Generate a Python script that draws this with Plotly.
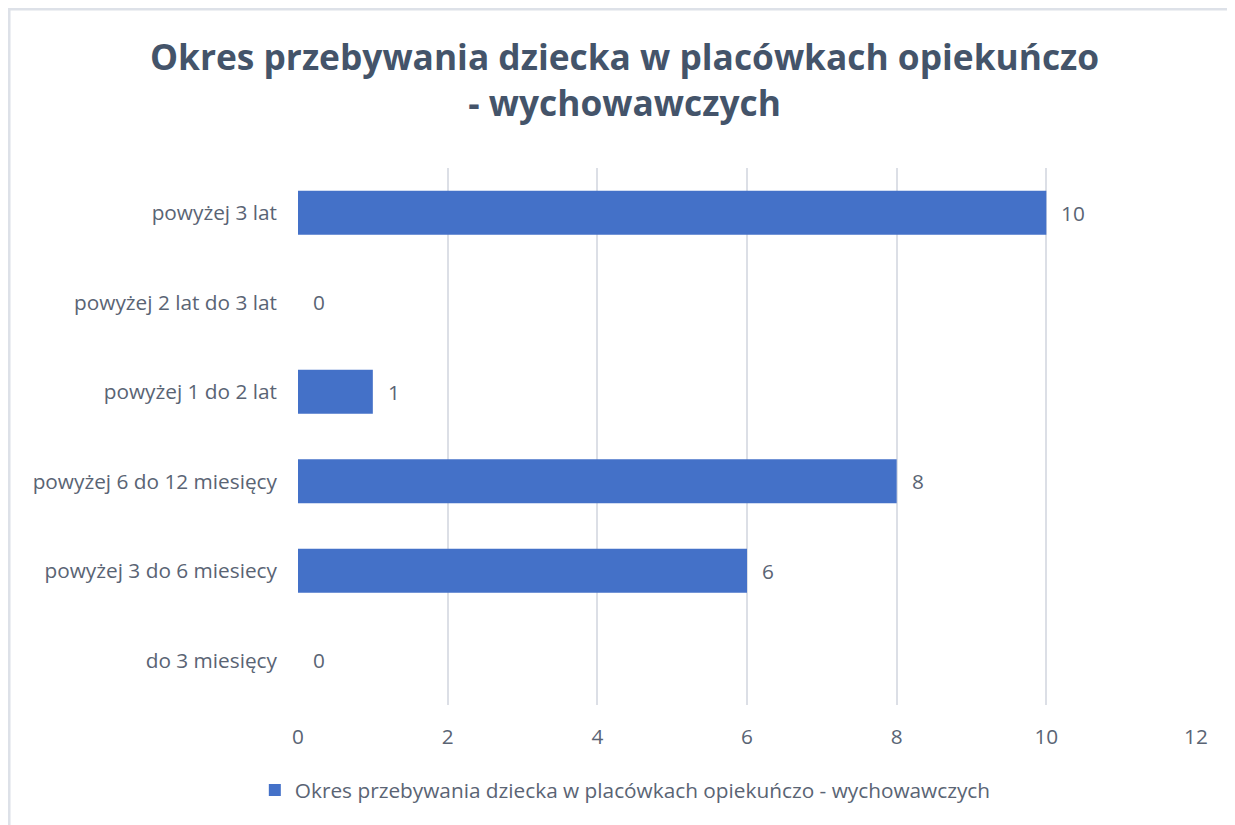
import plotly.graph_objects as go

categories = ["do 3 miesięcy", "powyżej 3 do 6 miesiecy", "powyżej 6 do 12 miesięcy",
              "powyżej 1 do 2 lat", "powyżej 2 lat do 3 lat", "powyżej 3 lat"]
values = [0, 6, 8, 1, 0, 10]
x_ticks = [0, 2, 4, 6, 8, 10, 12]
series_name = "Okres przebywania dziecka w placówkach opiekuńczo - wychowawczych"
title_text = "Okres przebywania dziecka w placówkach opiekuńczo<br>- wychowawczych"

label_color = "#5A6474"
font_family = "'Open Sans', sans-serif"
fs = 20.8

fig = go.Figure()
fig.add_trace(go.Bar(
    x=values, y=categories, orientation="h", name=series_name,
    marker=dict(color="#4471C8", line=dict(width=0)),
    showlegend=True,
))

for v, c in zip(values, categories):
    fig.add_annotation(x=v, y=c, text=str(v), showarrow=False, xanchor="left",
                       xshift=13, font=dict(size=fs, color=label_color, family=font_family))

fig.update_layout(
    width=1227, height=817,
    paper_bgcolor="white", plot_bgcolor="white",
    margin=dict(l=290, r=39, t=160, b=120),
    bargap=0.51,
    title=dict(text=title_text, x=0.5025, xanchor="center", y=0.924, yanchor="top",
               font=dict(size=35.3, color="#44546A", family="'Open Sans', sans-serif", weight="bold")),
    xaxis=dict(range=[0, 12], tickvals=x_ticks, showgrid=True, gridcolor="#DCDFE6", gridwidth=2,
               zeroline=False, showline=False, ticks="", ticklabelstandoff=17,
               tickfont=dict(size=fs, color=label_color, family=font_family)),
    yaxis=dict(categoryorder="array", categoryarray=categories, showgrid=False, zeroline=False,
               showline=False, ticks="", ticklabelstandoff=20,
               tickfont=dict(size=fs, color=label_color, family=font_family)),
    legend=dict(orientation="h", x=0.3645, xanchor="center", y=-0.121, yanchor="top",
                font=dict(size=fs, color=label_color, family=font_family),
                itemwidth=30),
    shapes=[dict(type="rect", xref="paper", yref="paper", x0=-0.3218, x1=1.2, y0=-0.4, y1=1.296,
                 line=dict(color="#DDE1E8", width=3), layer="below")],
)

fig.write_html("out.html")
